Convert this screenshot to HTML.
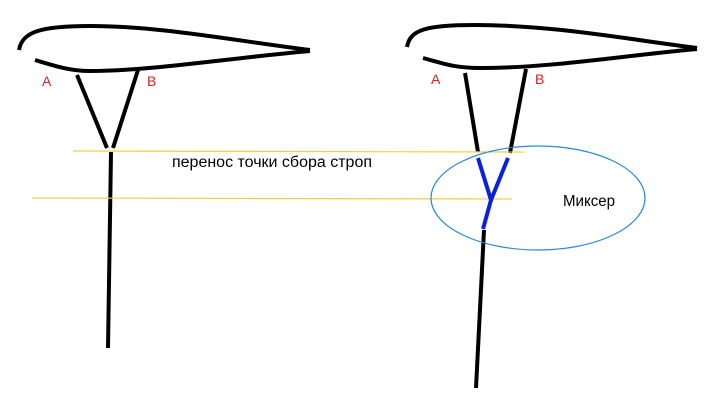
<!DOCTYPE html>
<html><head><style>body{margin:0;background:#fff}svg{display:block}</style></head><body>
<svg width="712" height="416" xmlns="http://www.w3.org/2000/svg">
<g fill="none" stroke="#000" stroke-width="4" stroke-linecap="butt">
<path d="M19,50 C22,32 40,26 90,26 C160,26 230,40 310,50"/>
<path d="M35,60 C55,66 70,71 90,71 C150,71 230,58 310,51"/>
<path d="M77,75 L107,148"/><path d="M138,70 L113,148"/>
<path d="M111,152 L108,348"/>
<path d="M407,47 C410,30 425,25 475,25 C550,25 620,38 697,48"/>
<path d="M423,58 C445,64 455,68 480,68 C550,68 620,56 697,49"/>
<path d="M465,73 L478,152"/><path d="M526,69 L510,153"/>
<path d="M484,230 L476,388"/>
</g>
<g stroke="#f0d040" stroke-width="1.2">
<line x1="73" y1="151" x2="525" y2="152"/>
<line x1="32" y1="198" x2="512" y2="199"/>
</g>
<g fill="none" stroke="#0a20e0" stroke-width="4">
<path d="M478,158 L491,200 L508,158"/><path d="M491,200 L483,229"/>
</g>
<ellipse cx="538" cy="198" rx="107" ry="52" fill="none" stroke="#2a8ad8" stroke-width="1.2"/>
<g font-family="Liberation Sans, sans-serif" font-size="14" fill="#e02020">
<text x="42" y="86">A</text><text x="147" y="86">B</text>
<text x="431" y="84">A</text><text x="535" y="84">B</text>
</g>
<g font-family="Liberation Sans, sans-serif" font-size="15.5" fill="#000">
<text x="172" y="167" textLength="200" lengthAdjust="spacingAndGlyphs">перенос точки сбора строп</text>
<text x="563" y="206" textLength="52" lengthAdjust="spacingAndGlyphs">Миксер</text>
</g>
</svg>
</body></html>
